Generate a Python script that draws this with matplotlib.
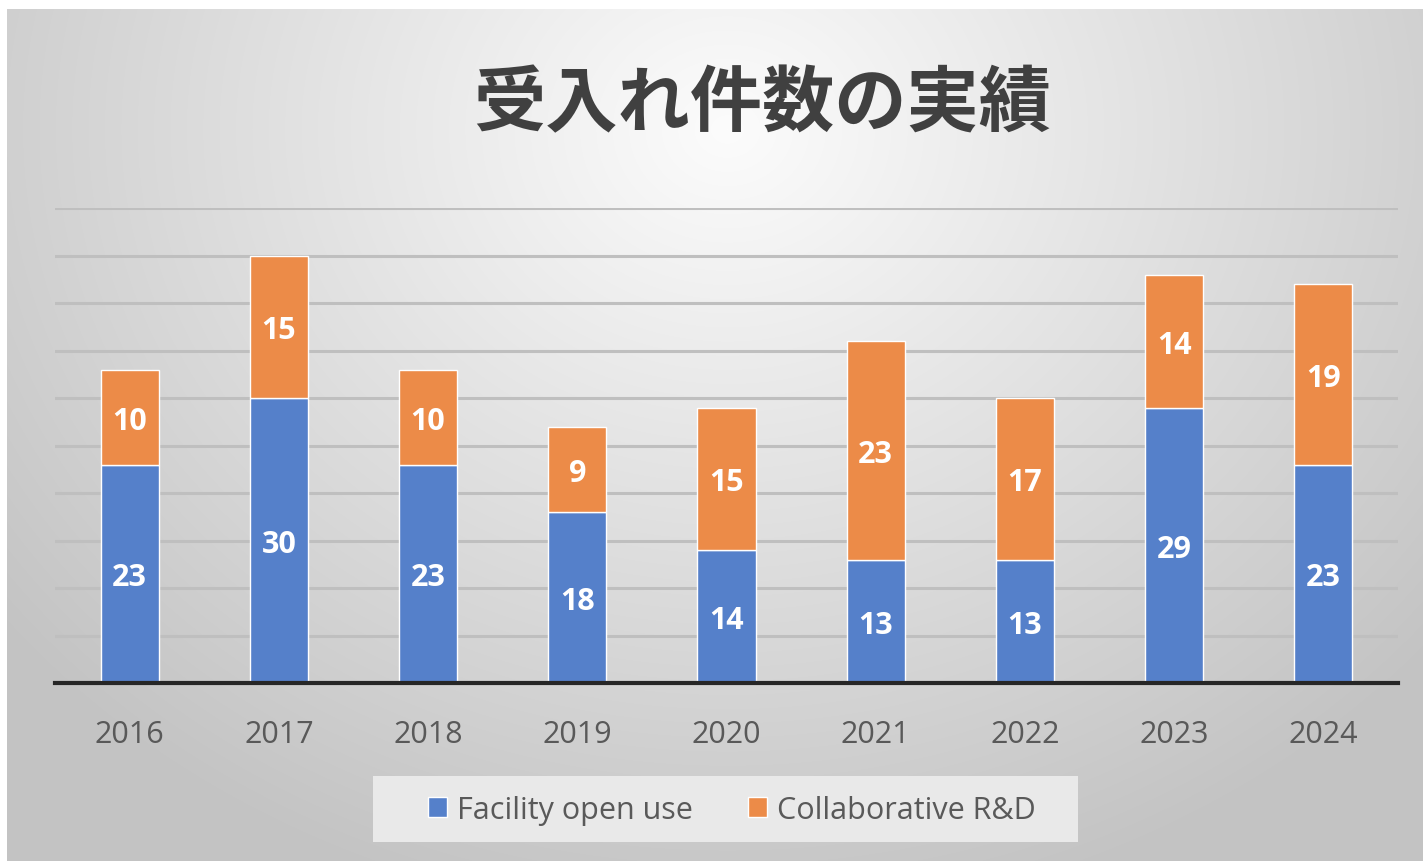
import numpy as np
import matplotlib
matplotlib.use('Agg')
import matplotlib.pyplot as plt
from matplotlib.patches import Patch, Rectangle

# data
years = ['2016', '2017', '2018', '2019', '2020', '2021', '2022', '2023', '2024']
facility = [23, 30, 23, 18, 14, 13, 13, 29, 23]
collab = [10, 15, 10, 9, 15, 23, 17, 14, 19]
series_names = ['Facility open use', 'Collaborative R&D']
title = '受入れ件数の実績'

BLUE = '#5580CA'
ORANGE = '#EC8B48'
W, H = 1423, 862

fig = plt.figure(figsize=(W / 100, H / 100), dpi=100)
fig.patch.set_facecolor('white')

# gradient background panel (Excel style)
bg = fig.add_axes([7 / W, 0, 1 - 7 / W, (H - 10) / H], zorder=0)
yy, xx = np.mgrid[0:852, 0:1416]
r = np.sqrt(((xx - 720) / 950.0) ** 2 + ((yy - 120) / 820.0) ** 2)
g = np.clip(252 - 58 * r, 195, 252) / 255.0
bg.imshow(np.dstack([g, g, g]), aspect='auto', extent=[0, 1, 0, 1])
bg.axis('off')

ax = fig.add_axes([55 / W, 178 / H, 1343 / W, 475 / H], zorder=1)
ax.patch.set_alpha(0)
x = np.arange(len(years))
bw = 0.39
ax.bar(x, facility, bw, color=BLUE, edgecolor='white', linewidth=1, zorder=3)
ax.bar(x, collab, bw, bottom=facility, color=ORANGE, edgecolor='white', linewidth=1, zorder=3)

# data labels in the middle of each segment
for i in range(len(years)):
    ax.text(x[i], facility[i] / 2, str(facility[i]), ha='center', va='center_baseline',
            color='white', fontsize=22, fontweight='bold', family='Open Sans', zorder=4)
    ax.text(x[i], facility[i] + collab[i] / 2, str(collab[i]), ha='center', va='center_baseline',
            color='white', fontsize=22, fontweight='bold', family='Open Sans', zorder=4)

ax.set_xlim(-0.5, len(years) - 0.5)
ax.set_ylim(0, 50)
ax.set_yticks(np.arange(5, 51, 5))
ax.yaxis.grid(True, color='#bfbfbf', linewidth=2.2, zorder=0)
ax.set_axisbelow(True)
ax.tick_params(axis='y', left=False, labelleft=False)
ax.set_xticks(x)
ax.set_xticklabels(years, fontsize=22, color='#595959', family='Open Sans')
ax.tick_params(axis='x', length=0, pad=26)
for s in ['top', 'left', 'right']:
    ax.spines[s].set_visible(False)
ax.spines['bottom'].set_color('#262626')
ax.spines['bottom'].set_linewidth(3)
ax.spines['bottom'].set_zorder(5)

fig.text(762 / W, 1 - 105 / H, title, ha='center', va='center', fontsize=52,
         fontweight='bold', color='#404040', family=['Noto Sans CJK JP', 'DejaVu Sans'])

# legend box
fig.patches.append(Rectangle((373 / W, 1 - 843 / H), 705 / W, 66 / H, transform=fig.transFigure,
                             facecolor='#e9e9e9', edgecolor='none', zorder=2))
handles = [Patch(facecolor=BLUE, edgecolor='white'), Patch(facecolor=ORANGE, edgecolor='white')]
leg = fig.legend(handles, series_names, loc='center', bbox_to_anchor=(732 / W, 1 - 811 / H),
                 ncol=2, frameon=False, prop={'family': 'Open Sans', 'size': 22},
                 handlelength=0.62, handleheight=0.62, handletextpad=0.33, columnspacing=1.8,
                 borderpad=0, borderaxespad=0)
leg.set_zorder(3)
for t in leg.get_texts():
    t.set_color('#595959')

fig.savefig('out.png', dpi=100)
